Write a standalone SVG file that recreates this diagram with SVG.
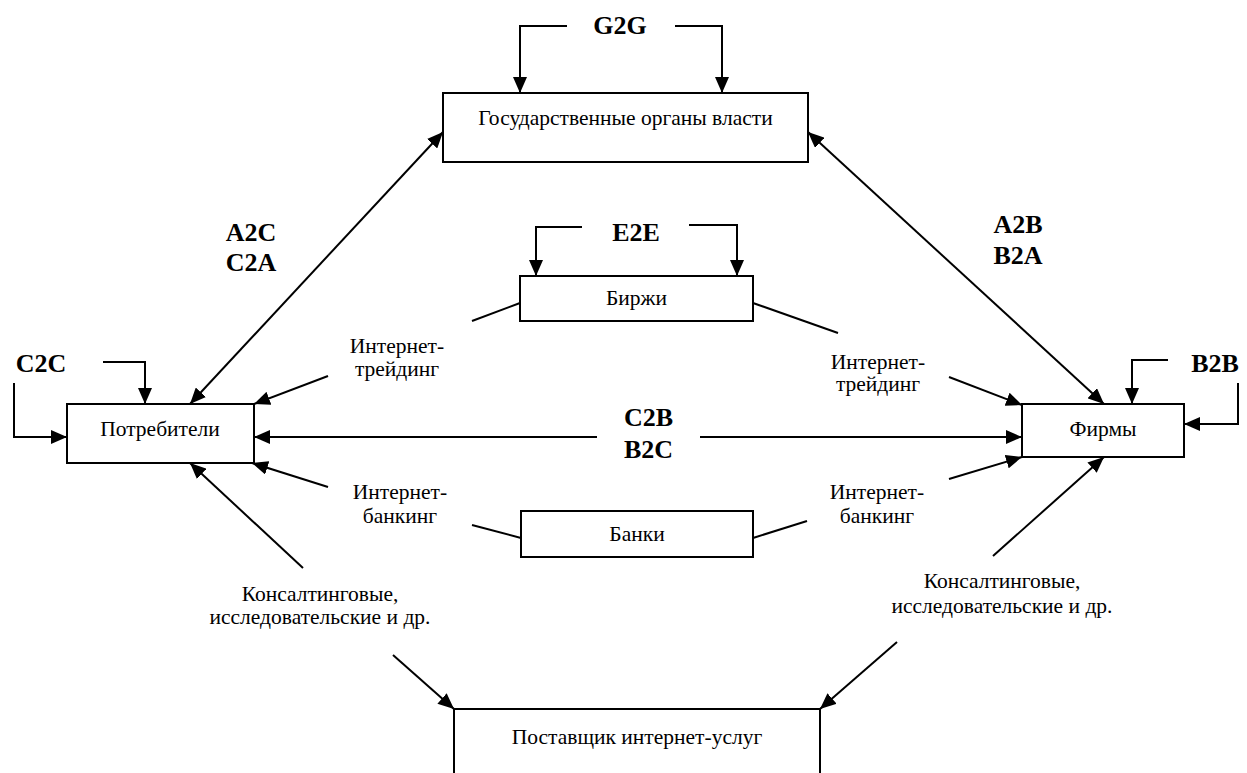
<svg xmlns="http://www.w3.org/2000/svg" width="1247" height="773" viewBox="0 0 1247 773">
<style>
.box{fill:#fff;stroke:#000;stroke-width:2}
.t{font-size:21.5px;fill:#000;text-anchor:middle}
.b{font-size:26px;font-weight:bold;fill:#000;text-anchor:middle}
.c{fill:none;stroke:#000;stroke-width:2}
.a{marker-end:url(#ah)}
.d{marker-start:url(#ah);marker-end:url(#ah)}
</style>
<defs>
<marker id="ah" markerUnits="userSpaceOnUse" markerWidth="16" markerHeight="14" refX="16" refY="7" orient="auto-start-reverse">
<path d="M0,0 L16,7 L0,14 z" fill="#000"/>
</marker>
</defs>
<rect width="1247" height="773" fill="#fff"/>
<g id="connectors">
<polyline class="c a" points="567,26 520,26 520,93"/>
<polyline class="c a" points="675,26 722,26 722,93"/>
<polyline class="c a" points="582,227 536,227 536,276"/>
<polyline class="c a" points="689,225 737,225 737,276"/>
<polyline class="c a" points="103,362 145,362 145,404"/>
<polyline class="c a" points="14,383 14,437 67,437"/>
<polyline class="c a" points="1168,360 1132,360 1132,404"/>
<polyline class="c a" points="1238,383 1238,424 1184,424"/>
<line class="c d" x1="443" y1="132" x2="190" y2="404"/>
<line class="c d" x1="808" y1="132" x2="1104" y2="404"/>
<line class="c a" x1="597" y1="437" x2="254" y2="437"/>
<line class="c a" x1="700" y1="437" x2="1022" y2="437"/>
<line class="c" x1="520" y1="303" x2="472" y2="321"/>
<line class="c" x1="753" y1="303" x2="838" y2="333"/>
<line class="c a" x1="328" y1="376" x2="254" y2="404"/>
<line class="c a" x1="949" y1="377" x2="1022" y2="405"/>
<line class="c" x1="521" y1="538" x2="472" y2="525"/>
<line class="c" x1="753" y1="538" x2="807" y2="521"/>
<line class="c a" x1="328" y1="487" x2="252" y2="463"/>
<line class="c a" x1="949" y1="479" x2="1022" y2="457"/>
<line class="c a" x1="303" y1="568" x2="190" y2="463"/>
<line class="c a" x1="993" y1="556" x2="1104" y2="457"/>
<line class="c a" x1="393" y1="655" x2="454" y2="709"/>
<line class="c a" x1="897" y1="642" x2="820" y2="709"/>
</g>
<g font-family="Liberation Serif, Tinos, Noto Serif, DejaVu Serif, serif">
<g id="gov"><rect class="box" x="443" y="93" width="365" height="69"/><text class="t" x="625.5" y="125">Государственные органы власти</text></g>
<g id="consumers"><rect class="box" x="67" y="404" width="187" height="59"/><text class="t" x="160" y="436">Потребители</text></g>
<g id="firms"><rect class="box" x="1022" y="404" width="162" height="53"/><text class="t" x="1103" y="436">Фирмы</text></g>
<g id="exchanges"><rect class="box" x="520" y="276" width="233" height="45"/><text class="t" x="636.5" y="305">Биржи</text></g>
<g id="banks"><rect class="box" x="521" y="511" width="232" height="46"/><text class="t" x="637" y="541">Банки</text></g>
<g id="provider"><rect class="box" x="454" y="709" width="366" height="90"/><text class="t" x="637" y="744">Поставщик интернет-услуг</text></g>
<g id="labels">
<text class="b" x="620" y="34">G2G</text>
<text class="b" x="636" y="241">E2E</text>
<text class="b" x="251" y="241">A2C</text>
<text class="b" x="251" y="271">C2A</text>
<text class="b" x="1018" y="233">A2B</text>
<text class="b" x="1018" y="264">B2A</text>
<text class="b" x="41" y="372">C2C</text>
<text class="b" x="1215" y="372">B2B</text>
<text class="b" x="648.5" y="426">C2B</text>
<text class="b" x="648.5" y="458">B2C</text>
<text class="t" x="397" y="353">Интернет-</text>
<text class="t" x="397" y="376">трейдинг</text>
<text class="t" x="878" y="369">Интернет-</text>
<text class="t" x="878" y="391">трейдинг</text>
<text class="t" x="400" y="499">Интернет-</text>
<text class="t" x="400" y="523">банкинг</text>
<text class="t" x="877" y="499">Интернет-</text>
<text class="t" x="877" y="523">банкинг</text>
<text class="t" x="320" y="601">Консалтинговые,</text>
<text class="t" x="320" y="624">исследовательские и др.</text>
<text class="t" x="1002" y="588">Консалтинговые,</text>
<text class="t" x="1002" y="613">исследовательские и др.</text>
</g>
</g>
</svg>
